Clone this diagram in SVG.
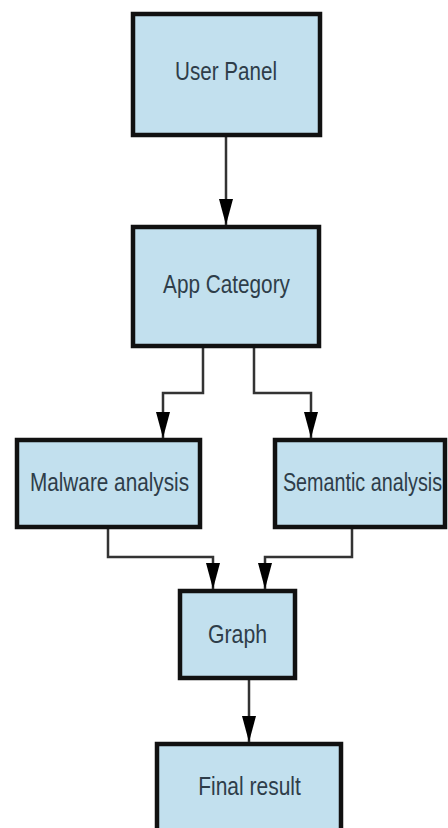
<svg xmlns="http://www.w3.org/2000/svg" width="448" height="828" viewBox="0 0 448 828">
  <defs>
    <style>
      .box { fill: #c2e0ee; stroke: #111111; stroke-width: 4.5; }
      .lbl { font-family: "Liberation Sans", Arial, sans-serif; font-size: 25px; fill: #2e3d49; text-anchor: middle; }
      .conn { fill: none; stroke: #333333; stroke-width: 2.5; marker-end: url(#ah); }
    </style>
    <marker id="ah" viewBox="0 0 26 14" markerWidth="26" markerHeight="14" refX="26" refY="7" orient="auto" markerUnits="userSpaceOnUse">
      <path d="M0,0 L26,7 L0,14 z" fill="#000000"/>
    </marker>
  </defs>
  <rect width="448" height="828" fill="#ffffff"/>

  <g id="connectors">
    <path class="conn" d="M226,137 V225"/>
    <path class="conn" d="M203,348 V393 H163 V438"/>
    <path class="conn" d="M254,348 V393 H311 V438"/>
    <path class="conn" d="M108,529 V557 H213 V589"/>
    <path class="conn" d="M352,529 V557 H265 V589"/>
    <path class="conn" d="M249,680 V742"/>
  </g>

  <g id="user-panel">
    <rect class="box" x="133" y="14" width="187" height="121"/>
    <text class="lbl" transform="translate(226,80) scale(0.825,1)">User Panel</text>
  </g>

  <g id="app-category">
    <rect class="box" x="133" y="227" width="186" height="119"/>
    <text class="lbl" transform="translate(226.5,293) scale(0.83,1)">App Category</text>
  </g>

  <g id="malware-analysis">
    <rect class="box" x="17" y="440" width="183" height="87"/>
    <text class="lbl" transform="translate(109.5,491) scale(0.83,1)">Malware analysis</text>
  </g>

  <g id="semantic-analysis">
    <rect class="box" x="275" y="440" width="170" height="87"/>
    <text class="lbl" transform="translate(362.5,491) scale(0.79,1)">Semantic analysis</text>
  </g>

  <g id="graph">
    <rect class="box" x="180" y="591" width="115" height="87"/>
    <text class="lbl" transform="translate(237.5,643) scale(0.85,1)">Graph</text>
  </g>

  <g id="final-result">
    <rect class="box" x="157" y="744" width="184" height="100"/>
    <text class="lbl" transform="translate(249.5,795) scale(0.84,1)">Final result</text>
  </g>
</svg>
